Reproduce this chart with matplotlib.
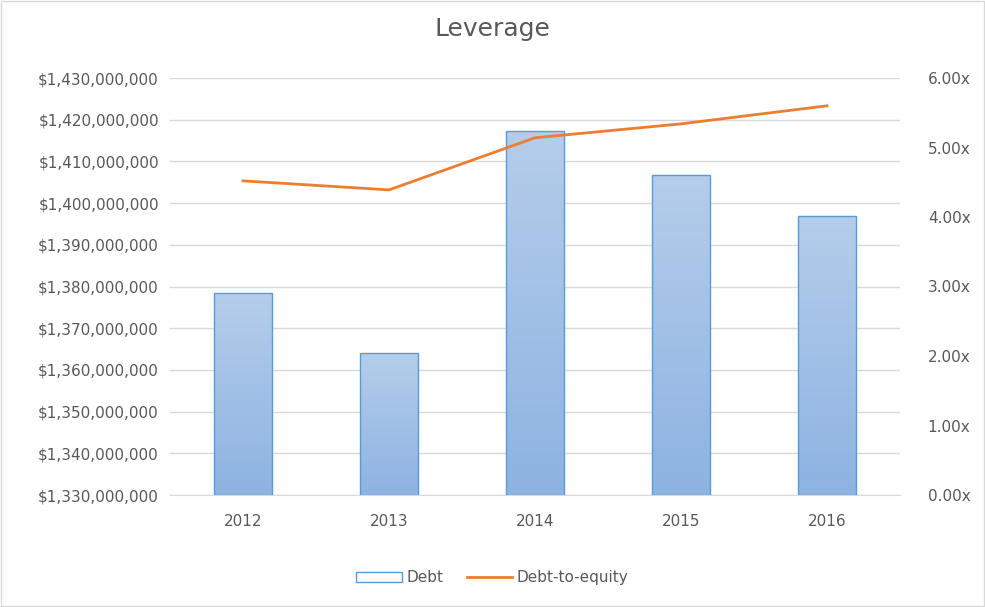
import matplotlib.pyplot as plt
import numpy as np
from matplotlib.ticker import FuncFormatter
from matplotlib.patches import Rectangle

years = ["2012", "2013", "2014", "2015", "2016"]
debt = [1378.4e6, 1364.0e6, 1417.3e6, 1406.7e6, 1396.9e6]
debt_to_equity = [4.52, 4.39, 5.14, 5.34, 5.60]

fig = plt.figure(figsize=(9.85, 6.07), dpi=100)
fig.patches.append(Rectangle((0.001, 0.001), 0.998, 0.998, transform=fig.transFigure,
                             fill=False, edgecolor="#d9d9d9", linewidth=1))
ax = fig.add_axes([170 / 985, 112 / 607, 730 / 985, 417 / 607])
x = np.arange(len(years))
width = 0.4
ymin, ymax = 1330e6, 1430e6

# gradient-filled bars
grad = np.linspace(0, 1, 256).reshape(-1, 1)
from matplotlib.colors import LinearSegmentedColormap
cmap = LinearSegmentedColormap.from_list("g", ["#8db3e2", "#b5cdea"])
bars = ax.bar(x, [d - ymin for d in debt], width, bottom=ymin, color="none",
              edgecolor="#5b9bd5", linewidth=1, label="Debt", zorder=3)
for b in bars:
    im = ax.imshow(grad, cmap=cmap, aspect="auto", origin="lower",
                   extent=[b.get_x(), b.get_x() + b.get_width(), ymin, b.get_y() + b.get_height()],
                   zorder=2)
    im.set_clip_path(b)
ax.set_xlim(-0.5, len(years) - 0.5)
ax.set_ylim(ymin, ymax)
ax.set_yticks(np.arange(ymin, ymax + 1, 10e6))
ax.yaxis.set_major_formatter(FuncFormatter(lambda v, p: f"${v:,.0f}"))
ax.set_xticks(x)
ax.set_xticklabels(years)
ax.grid(axis="y", color="#d9d9d9", linewidth=1, zorder=0)
for s in ax.spines.values():
    s.set_visible(False)
ax.spines["bottom"].set_visible(True)
ax.spines["bottom"].set_color("#d9d9d9")
ax.tick_params(length=0, colors="#595959", labelsize=11, pad=8)
ax.tick_params(axis="x", pad=14)

ax2 = ax.twinx()
line, = ax2.plot(x, debt_to_equity, color="#ed7d31", linewidth=2, label="Debt-to-equity")
ax2.set_ylim(0, 6)
ax2.set_yticks(np.arange(0, 6.01, 1))
ax2.yaxis.set_major_formatter(FuncFormatter(lambda v, p: f"{v:.2f}x"))
for s in ax2.spines.values():
    s.set_visible(False)
ax2.tick_params(length=0, colors="#595959", labelsize=11, pad=20)

fig.text(0.5, 0.94, "Leverage", ha="center", fontsize=18, color="#595959")
fig.legend([bars, line], ["Debt", "Debt-to-equity"], loc="center", bbox_to_anchor=(0.5, 0.048),
           ncol=2, frameon=False, fontsize=11, labelcolor="#595959", handlelength=3,
           columnspacing=1.5, handletextpad=0.3)
fig.savefig("out.png", dpi=100)
